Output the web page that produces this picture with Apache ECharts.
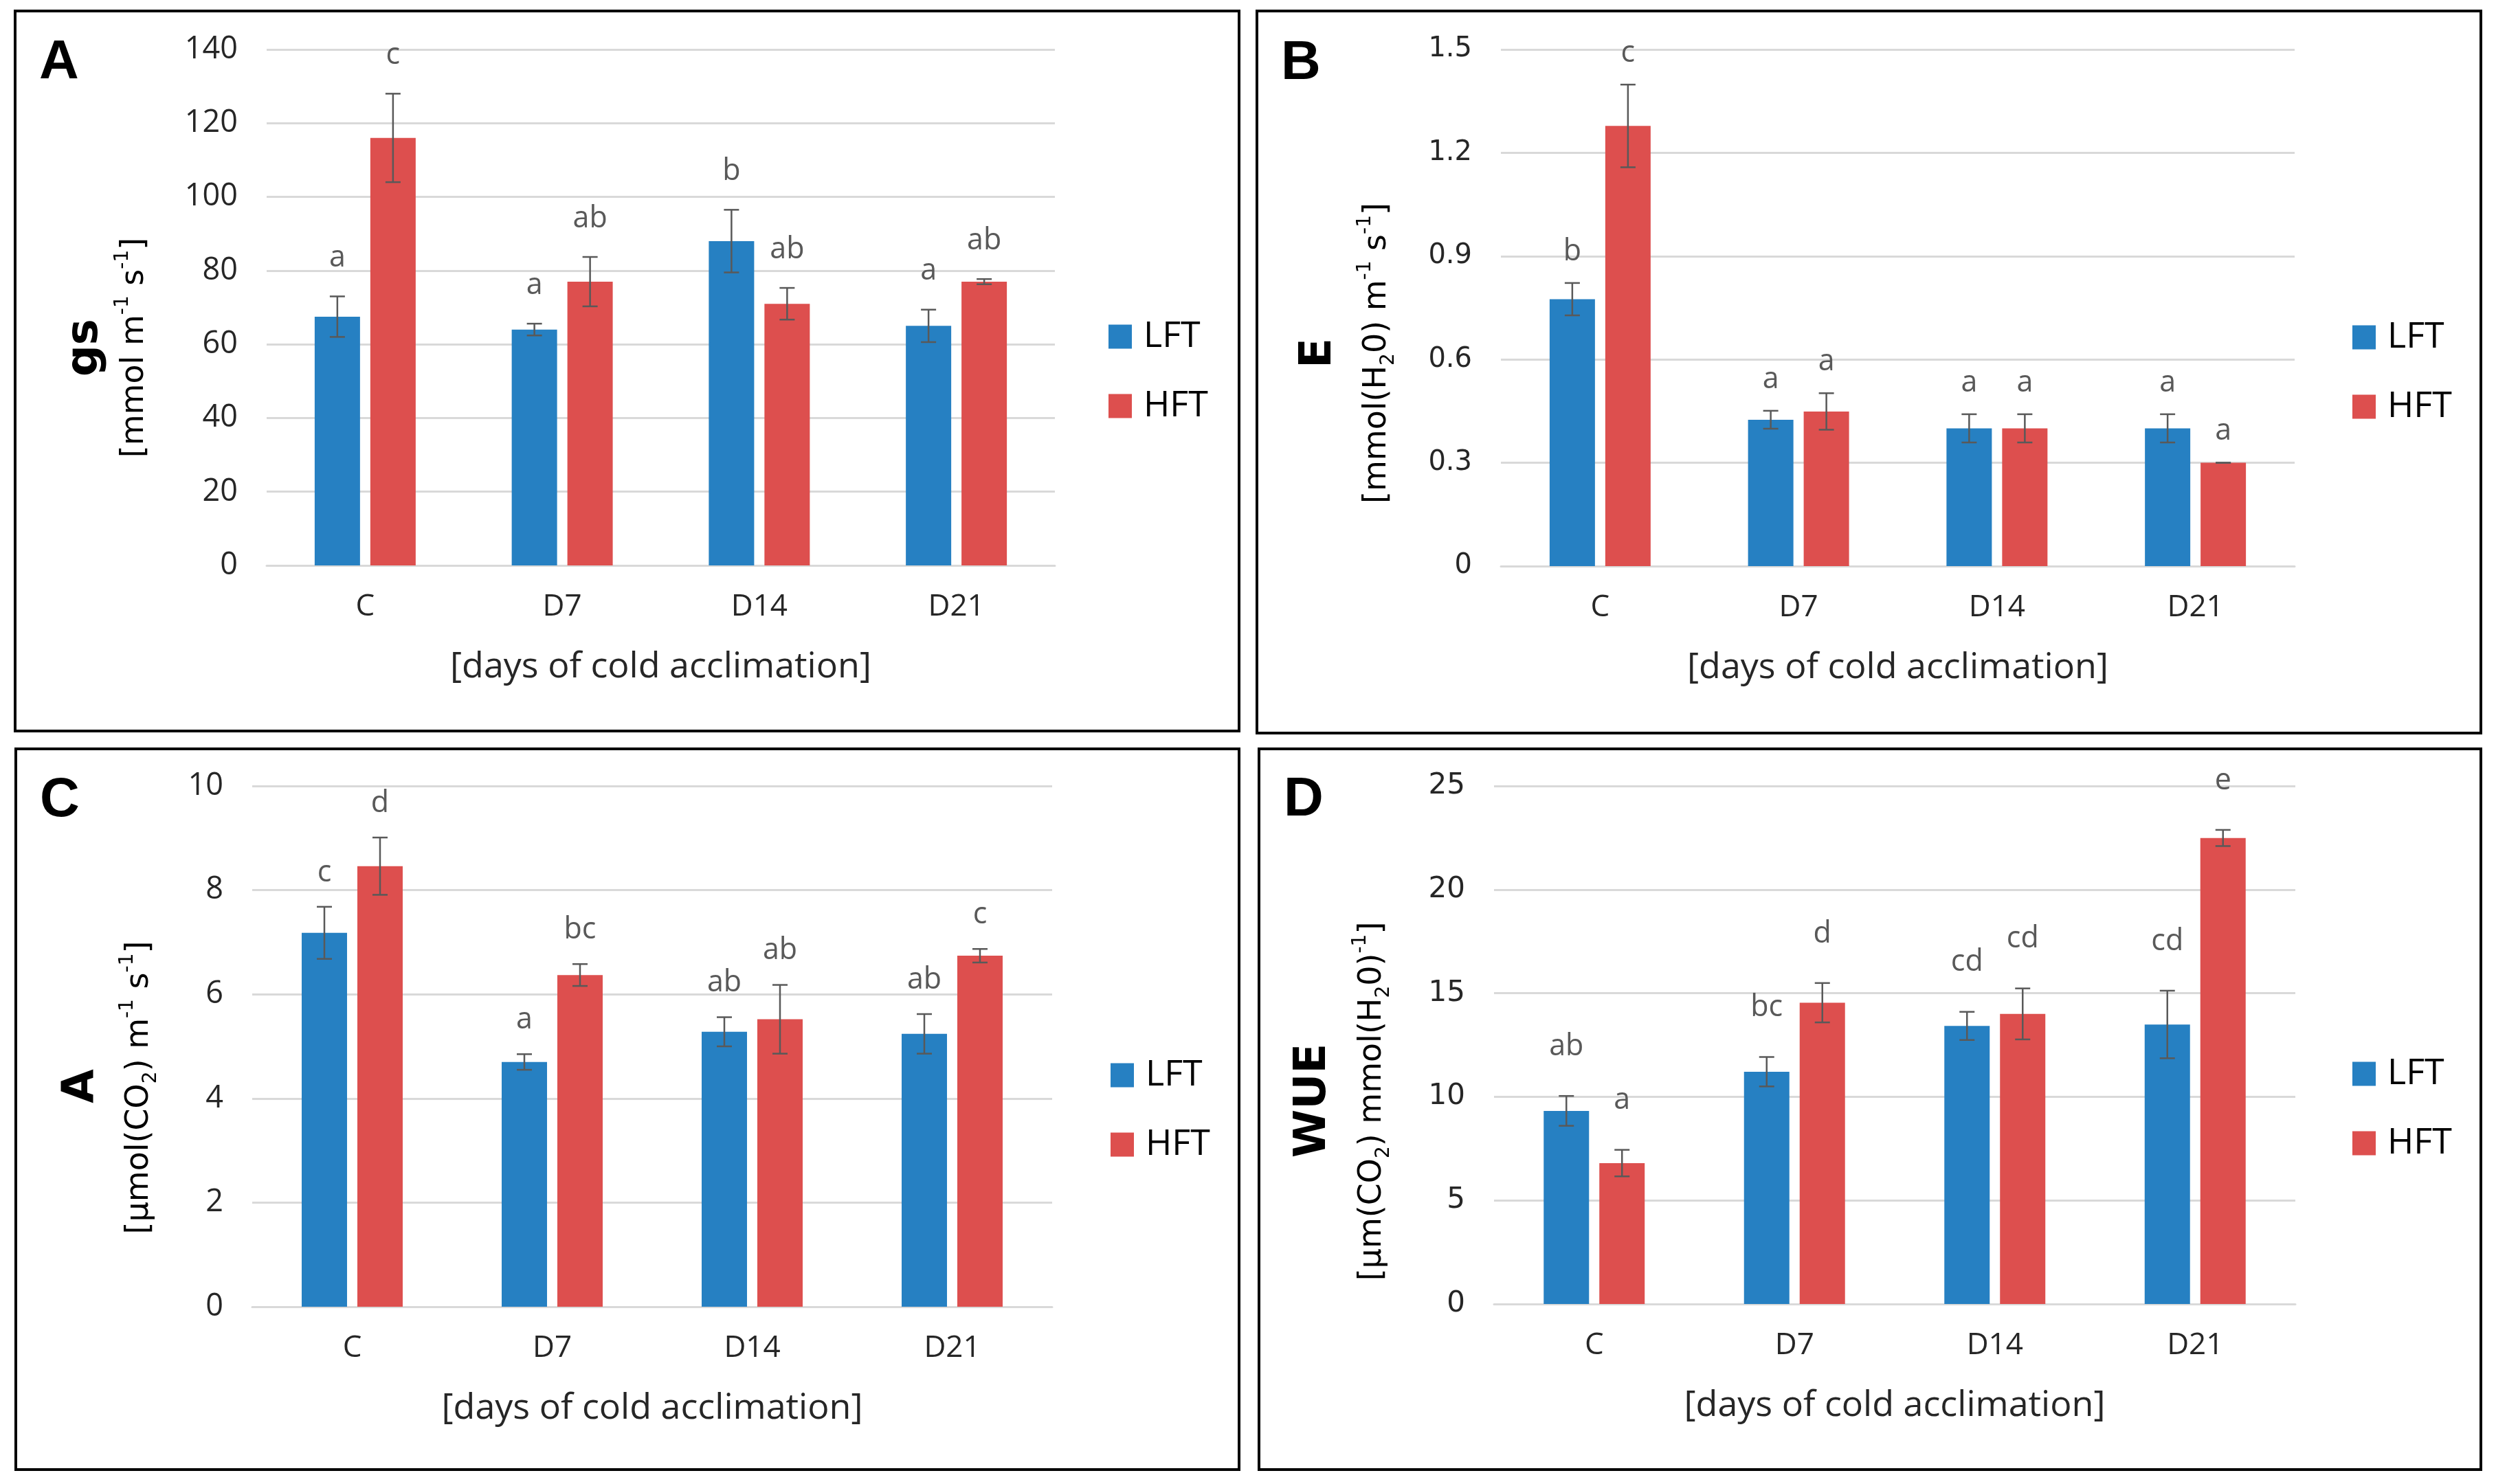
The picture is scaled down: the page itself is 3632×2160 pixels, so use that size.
<!DOCTYPE html>
<html>
<head>
<meta charset="utf-8">
<script src="https://cdn.jsdelivr.net/npm/echarts@6/dist/echarts.min.js"></script>
<style>
html,body{margin:0;padding:0;background:#fff;}
#main{width:3632px;height:2160px;}
</style>
</head>
<body>
<div id="main"></div>
<script>
// ---------- data ----------
const categories = ['C', 'D7', 'D14', 'D21'];
const seriesNames = ['LFT', 'HFT'];

// Panel A: stomatal conductance gs
const gsTicks = [0, 20, 40, 60, 80, 100, 120, 140];
const gsLFT = [67.5, 64, 88, 65];
const gsLFTErr = [5.5, 1.6, 8.5, 4.4];
const gsHFT = [116, 77, 71, 77];
const gsHFTErr = [12, 6.7, 4.3, 0.7];
const gsLFTLetters = ['a', 'a', 'b', 'a'];
const gsHFTLetters = ['c', 'ab', 'ab', 'ab'];

// Panel B: transpiration E
const eTicks = [0, 0.3, 0.6, 0.9, 1.2, 1.5];
const eLFT = [0.775, 0.425, 0.40, 0.40];
const eLFTErr = [0.047, 0.026, 0.041, 0.041];
const eHFT = [1.278, 0.449, 0.40, 0.30];
const eHFTErr = [0.12, 0.053, 0.041, 0];
const eLFTLetters = ['b', 'a', 'a', 'a'];
const eHFTLetters = ['c', 'a', 'a', 'a'];

// Panel C: assimilation A
const aTicks = [0, 2, 4, 6, 8, 10];
const aLFT = [7.18, 4.70, 5.28, 5.24];
const aLFTErr = [0.5, 0.15, 0.28, 0.38];
const aHFT = [8.46, 6.37, 5.52, 6.74];
const aHFTErr = [0.55, 0.21, 0.66, 0.13];
const aLFTLetters = ['c', 'a', 'ab', 'ab'];
const aHFTLetters = ['d', 'bc', 'ab', 'c'];

// Panel D: water use efficiency WUE
const wueTicks = [0, 5, 10, 15, 20, 25];
const wueLFT = [9.32, 11.21, 13.42, 13.49];
const wueLFTErr = [0.72, 0.71, 0.68, 1.63];
const wueHFT = [6.80, 14.54, 14.0, 22.49];
const wueHFTErr = [0.64, 0.95, 1.23, 0.39];
const wueLFTLetters = ['ab', 'bc', 'cd', 'cd'];
const wueHFTLetters = ['a', 'd', 'cd', 'e'];

const xTitle = '[days of cold acclimation]';

// ---------- style ----------
const CAL = "'Open Sans', 'Liberation Sans', sans-serif";
const GOTH = "'DejaVu Sans', 'Noto Sans', sans-serif";
const BLUE = '#2680C2';
const RED = '#DD4F4E';
const GRIDC = '#D9D9D9';
const ERRC = '#595959';
const TXT = '#262626';
const BAR_W = 66;
const GAP = 15;

const panels = [
  { lft: gsLFT, lftErr: gsLFTErr, hft: gsHFT, hftErr: gsHFTErr, lftL: gsLFTLetters, hftL: gsHFTLetters,
    ticks: gsTicks, fmt: v => String(v),
    grid: { left: 388, top: 72, width: 1147, height: 751 }, tickFont: CAL, tickSize: 45, labelGap: 34,
    name: 'gs', namePos: [124, 506], unit: '{u|[mmol m}{sup|-1}{u| s}{sup|-1}{u|]}', unitPos: [196, 506],
    letter: 'A', letterPos: [86, 92], legend: [1613, 464], border: [22, 16, 1781, 1048] },
  { lft: eLFT, lftErr: eLFTErr, hft: eHFT, hftErr: eHFTErr, lftL: eLFTLetters, hftL: eHFTLetters,
    ticks: eTicks, fmt: v => (v === 0 ? '0' : v.toFixed(1)),
    grid: { left: 2184, top: 72, width: 1155, height: 752 }, tickFont: GOTH, tickSize: 40, labelGap: 24,
    name: 'E', namePos: [1919, 514], unit: '{u|[mmol(H}{sub|2}{u|0) m}{sup|-1}{u| s}{sup|-1}{u|]}', unitPos: [2004, 514],
    letter: 'B', letterPos: [1893, 93], legend: [3423, 465], border: [1829, 16, 1781, 1051] },
  { lft: aLFT, lftErr: aLFTErr, hft: aHFT, hftErr: aHFTErr, lftL: aLFTLetters, hftL: aHFTLetters,
    ticks: aTicks, fmt: v => String(v),
    grid: { left: 367, top: 1144, width: 1164, height: 758 }, tickFont: CAL, tickSize: 45, labelGap: 28,
    name: 'A', namePos: [119, 1581], unit: '{u|[µmol(CO}{sub|2}{u|) m}{sup|-1}{u| s}{sup|-1}{u|]}', unitPos: [203, 1583],
    letter: 'C', letterPos: [87, 1166], legend: [1616, 1539], border: [23, 1090, 1780, 1049] },
  { lft: wueLFT, lftErr: wueLFTErr, hft: wueHFT, hftErr: wueHFTErr, lftL: wueLFTLetters, hftL: wueHFTLetters,
    ticks: wueTicks, fmt: v => String(v),
    grid: { left: 2174, top: 1144, width: 1166, height: 754 }, tickFont: GOTH, tickSize: 42, labelGap: 50,
    name: 'WUE', namePos: [1911, 1602], unit: '{u|[µm(CO}{sub|2}{u|) mmol(H}{sub|2}{u|0)}{sup|-1}{u|]}', unitPos: [1997, 1603],
    letter: 'D', letterPos: [1897, 1165], legend: [3423, 1537], border: [1832, 1090, 1778, 1049] }
];

function errRenderer(p, group) {
  const letters = group === 0 ? p.lftL : p.hftL;
  const off = (group === 0 ? -1 : 1) * (BAR_W + GAP) / 2;
  return function (params, api) {
    const i = api.value(0), m = api.value(1), e = api.value(2);
    const x = api.coord([i, 0])[0] + off;
    const yT = api.coord([i, m + e])[1];
    const yB = api.coord([i, m - e])[1];
    const ls = { stroke: ERRC, lineWidth: 2.5 };
    return {
      type: 'group',
      children: [
        { type: 'line', shape: { x1: x, y1: yT, x2: x, y2: yB }, style: ls },
        { type: 'line', shape: { x1: x - 11, y1: yT, x2: x + 11, y2: yT }, style: ls },
        { type: 'line', shape: { x1: x - 11, y1: yB, x2: x + 11, y2: yB }, style: ls },
        { type: 'text', style: { text: letters[params.dataIndex], x: x, y: yT - p.labelGap,
            fill: ERRC, fontSize: 43, fontFamily: CAL, align: 'center', verticalAlign: 'bottom' } }
      ]
    };
  };
}

const option = {
  backgroundColor: '#fff',
  animation: false,
  grid: [], xAxis: [], yAxis: [], series: [], legend: [], graphic: []
};

panels.forEach((p, k) => {
  option.grid.push(Object.assign({ containLabel: false }, p.grid));
  option.xAxis.push({
    type: 'category', gridIndex: k, data: categories,
    axisTick: { show: false },
    axisLine: { lineStyle: { color: GRIDC, width: 3 } },
    axisLabel: { fontSize: 44, fontFamily: CAL, color: TXT, margin: 38 },
    name: xTitle, nameLocation: 'middle', nameGap: 122,
    nameTextStyle: { fontSize: 52, fontFamily: CAL, color: TXT }
  });
  const t = p.ticks;
  option.yAxis.push({
    type: 'value', gridIndex: k, min: t[0], max: t[t.length - 1], interval: t[1] - t[0],
    axisLine: { show: false }, axisTick: { show: false },
    splitLine: { lineStyle: { color: GRIDC, width: 3 } },
    axisLabel: { fontSize: p.tickSize, fontFamily: p.tickFont, color: TXT, margin: 42,
      formatter: v => p.fmt(Math.round(v * 1000) / 1000) }
  });
  option.series.push({
    type: 'bar', name: 'LFT', xAxisIndex: k, yAxisIndex: k, data: p.lft,
    barWidth: BAR_W, barGap: (GAP / BAR_W * 100).toFixed(1) + '%',
    itemStyle: { color: BLUE }
  });
  option.series.push({
    type: 'bar', name: 'HFT', xAxisIndex: k, yAxisIndex: k, data: p.hft,
    barWidth: BAR_W, barGap: (GAP / BAR_W * 100).toFixed(1) + '%',
    itemStyle: { color: RED }
  });
  option.series.push({
    type: 'custom', name: 'LFT error', xAxisIndex: k, yAxisIndex: k, z: 5, clip: false,
    renderItem: errRenderer(p, 0),
    data: p.lft.map((v, i) => [i, v, p.lftErr[i]])
  });
  option.series.push({
    type: 'custom', name: 'HFT error', xAxisIndex: k, yAxisIndex: k, z: 5, clip: false,
    renderItem: errRenderer(p, 1),
    data: p.hft.map((v, i) => [i, v, p.hftErr[i]])
  });
  option.legend.push({
    orient: 'vertical', left: p.legend[0], top: p.legend[1], padding: 0,
    itemWidth: 34, itemHeight: 35, itemGap: 49, icon: 'rect',
    selectedMode: false,
    data: seriesNames,
    textStyle: { fontSize: 52, fontFamily: CAL, color: '#000', padding: [0, 0, 0, 12] }
  });
  // panel border
  option.graphic.push({
    type: 'rect', silent: true,
    shape: { x: p.border[0], y: p.border[1], width: p.border[2], height: p.border[3] },
    style: { fill: 'none', stroke: '#000', lineWidth: 4 }
  });
  // panel letter
  option.graphic.push({
    type: 'text', x: p.letterPos[0], y: p.letterPos[1],
    style: { text: p.letter, fontSize: 80, fontWeight: 'bold', fontFamily: "'Liberation Sans', Arial, sans-serif",
      fill: '#000', align: 'center', verticalAlign: 'middle' }
  });
  // y-axis quantity name
  option.graphic.push({
    type: 'text', x: p.namePos[0], y: p.namePos[1], rotation: Math.PI / 2,
    style: { text: p.name, fontSize: 64, fontWeight: 'bold', fontFamily: GOTH,
      fill: '#000', align: 'center', verticalAlign: 'middle' }
  });
  // y-axis unit
  option.graphic.push({
    type: 'text', x: p.unitPos[0], y: p.unitPos[1], rotation: Math.PI / 2,
    style: {
      text: p.unit, align: 'center', verticalAlign: 'middle',
      rich: {
        u: { fontSize: 46, fontFamily: GOTH, fill: '#000', lineHeight: 62 },
        sup: { fontSize: 28, fontFamily: GOTH, fill: '#000', lineHeight: 30, verticalAlign: 'top' },
        sub: { fontSize: 28, fontFamily: GOTH, fill: '#000', lineHeight: 30, verticalAlign: 'bottom' }
      }
    }
  });
});

const chart = echarts.init(document.getElementById('main'), null, { renderer: 'canvas' });
chart.setOption(option);
</script>
</body>
</html>
